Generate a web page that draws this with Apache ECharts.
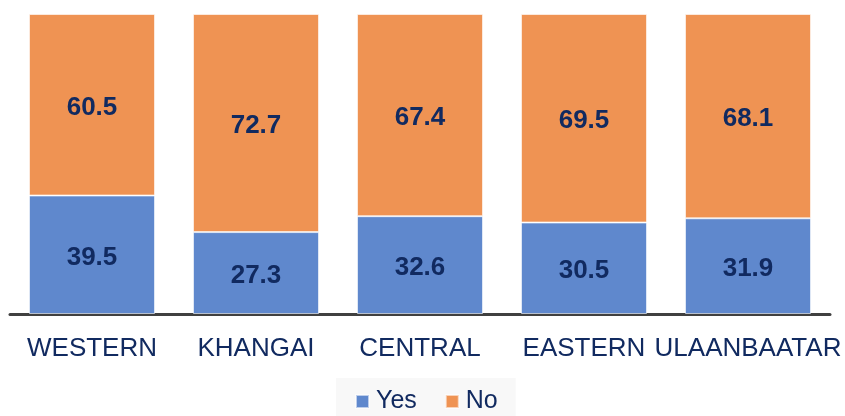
<!DOCTYPE html>
<html>
<head>
<meta charset="utf-8">
<script src="https://cdn.jsdelivr.net/npm/echarts@6/dist/echarts.min.js"></script>
<style>html,body{margin:0;padding:0;background:#fff}#c{width:845px;height:416px}</style>
</head>
<body>
<div id="c"></div>
<script>
const categories = ['WESTERN', 'KHANGAI', 'CENTRAL', 'EASTERN', 'ULAANBAATAR'];
const yesValues = [39.5, 27.3, 32.6, 30.5, 31.9];
const noValues = [60.5, 72.7, 67.4, 69.5, 68.1];
const seriesNames = ['Yes', 'No'];

const chart = echarts.init(document.getElementById('c'), null, {renderer: 'canvas'});
const labelStyle = {
  show: true,
  position: 'inside',
  offset: [0, 3],
  color: '#112a60',
  fontFamily: 'Liberation Sans, Arial, sans-serif',
  fontWeight: 'bold',
  fontSize: 26,
  formatter: p => p.value.toFixed(1)
};
chart.setOption({
  animation: false,
  grid: {left: 10, right: 15, top: 14, bottom: 102},
  legend: {
    data: seriesNames,
    left: 336,
    top: 378,
    backgroundColor: '#f8f8f8',
    padding: [11, 18, 11, 19],
    itemWidth: 13,
    itemHeight: 13,
    itemGap: 28,
    icon: 'rect',
    textStyle: {color: '#112a60', fontSize: 25, fontFamily: 'Liberation Sans, Arial, sans-serif', padding: [0, 0, 0, 2]}
  },
  xAxis: {
    type: 'category',
    data: categories,
    axisLine: {lineStyle: {color: '#404040', width: 3}},
    axisTick: {show: false},
    axisLabel: {color: '#112a60', fontSize: 26, fontFamily: 'Liberation Sans, Arial, sans-serif', margin: 22, interval: 0}
  },
  yAxis: {type: 'value', min: 0, max: 100, show: false, splitLine: {show: false}},
  series: [
    {name: seriesNames[0], type: 'bar', stack: 's', data: yesValues, barWidth: 126,
     itemStyle: {color: '#5f88cd', borderColor: 'rgba(255,255,255,0.6)', borderWidth: 1}, label: labelStyle},
    {name: seriesNames[1], type: 'bar', stack: 's', data: noValues, barWidth: 126,
     itemStyle: {color: '#ef9353', borderColor: 'rgba(255,255,255,0.6)', borderWidth: 1}, label: labelStyle}
  ]
});
</script>
</body>
</html>
